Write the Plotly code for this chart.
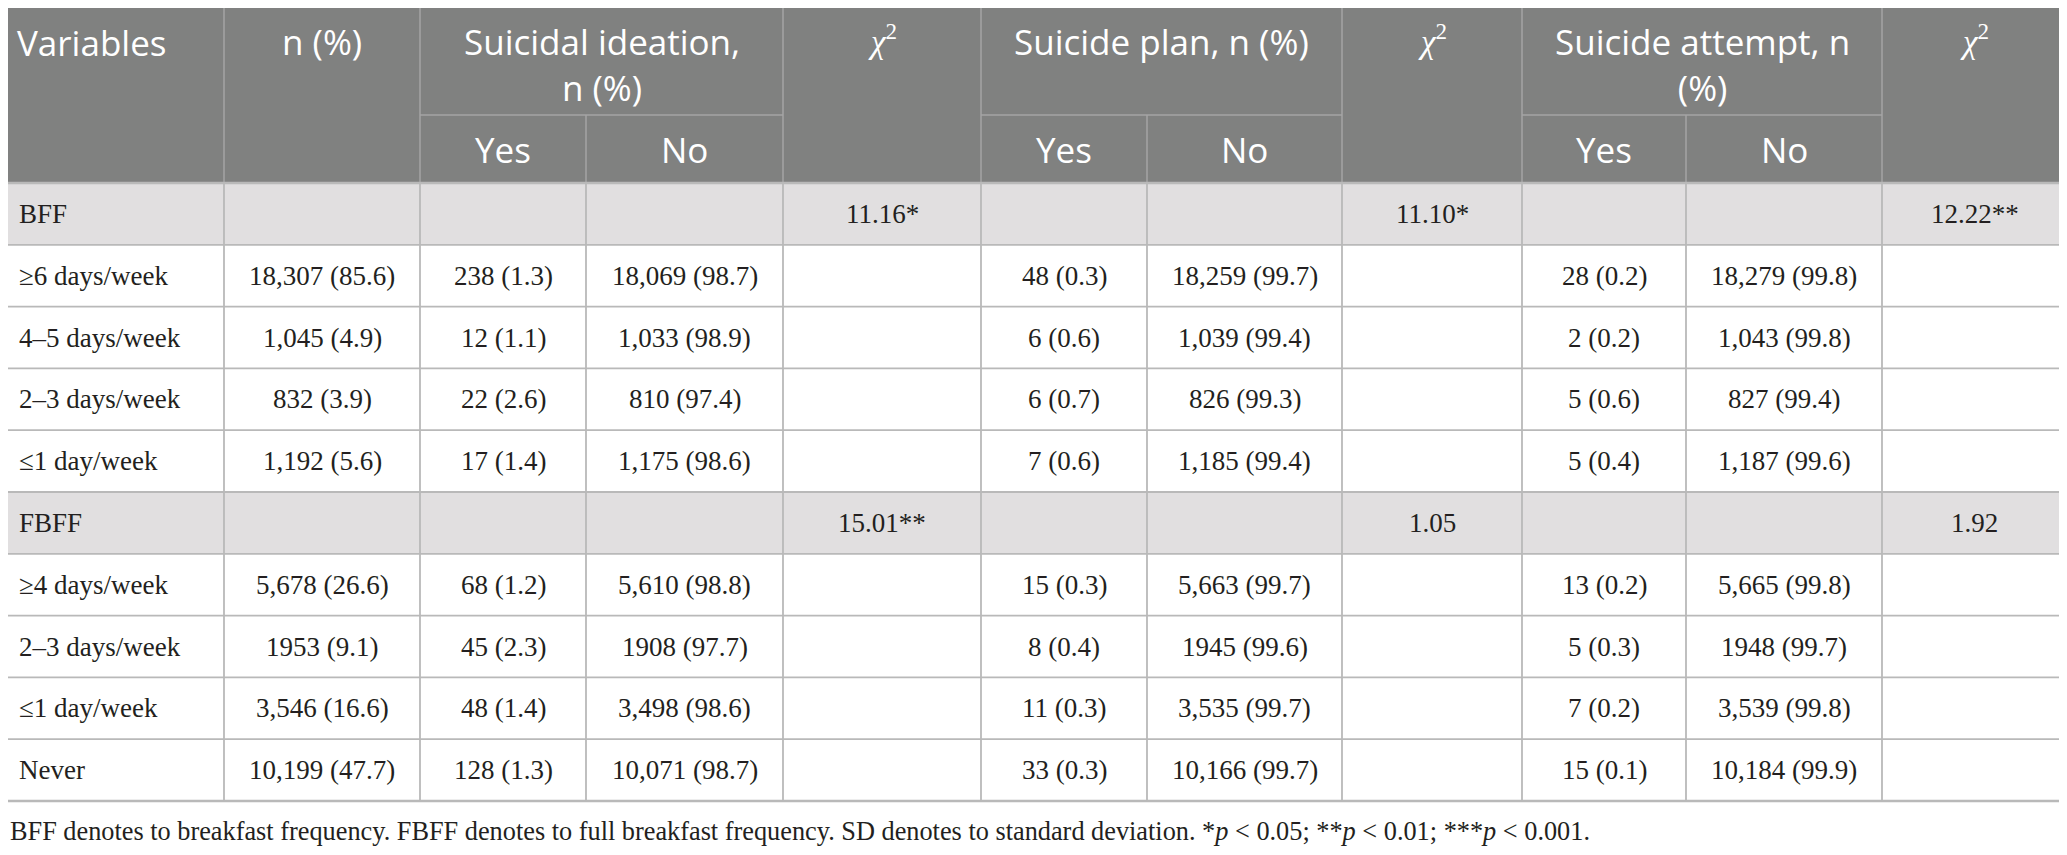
import plotly.graph_objects as go

# Table contents (one entry per body row)
variables = ["BFF", "≥6 days/week", "4–5 days/week", "2–3 days/week", "≤1 day/week",
             "FBFF", "≥4 days/week", "2–3 days/week", "≤1 day/week", "Never"]
section_rows = ["BFF", "FBFF"]
n_pct = ["", "18,307 (85.6)", "1,045 (4.9)", "832 (3.9)", "1,192 (5.6)",
         "", "5,678 (26.6)", "1953 (9.1)", "3,546 (16.6)", "10,199 (47.7)"]
ideation_yes = ["", "238 (1.3)", "12 (1.1)", "22 (2.6)", "17 (1.4)",
                "", "68 (1.2)", "45 (2.3)", "48 (1.4)", "128 (1.3)"]
ideation_no = ["", "18,069 (98.7)", "1,033 (98.9)", "810 (97.4)", "1,175 (98.6)",
               "", "5,610 (98.8)", "1908 (97.7)", "3,498 (98.6)", "10,071 (98.7)"]
chi_ideation = ["11.16*", "", "", "", "", "15.01**", "", "", "", ""]
plan_yes = ["", "48 (0.3)", "6 (0.6)", "6 (0.7)", "7 (0.6)",
            "", "15 (0.3)", "8 (0.4)", "11 (0.3)", "33 (0.3)"]
plan_no = ["", "18,259 (99.7)", "1,039 (99.4)", "826 (99.3)", "1,185 (99.4)",
           "", "5,663 (99.7)", "1945 (99.6)", "3,535 (99.7)", "10,166 (99.7)"]
chi_plan = ["11.10*", "", "", "", "", "1.05", "", "", "", ""]
attempt_yes = ["", "28 (0.2)", "2 (0.2)", "5 (0.6)", "5 (0.4)",
               "", "13 (0.2)", "5 (0.3)", "7 (0.2)", "15 (0.1)"]
attempt_no = ["", "18,279 (99.8)", "1,043 (99.8)", "827 (99.4)", "1,187 (99.6)",
              "", "5,665 (99.8)", "1948 (99.7)", "3,539 (99.8)", "10,184 (99.9)"]
chi_attempt = ["12.22**", "", "", "", "", "1.92", "", "", "", ""]

# Header labels
top_headers = ["Variables", "n (%)", "Suicidal ideation,<br>n (%)", "<i>χ</i><sup>2</sup>",
               "Suicide plan, n (%)", "<i>χ</i><sup>2</sup>", "Suicide attempt, n<br>(%)",
               "<i>χ</i><sup>2</sup>"]
sub_headers = ["Yes", "No"]
footnote = ("BFF denotes to breakfast frequency. FBFF denotes to full breakfast frequency. "
            "SD denotes to standard deviation. *<i>p</i> &lt; 0.05; **<i>p</i> &lt; 0.01; "
            "***<i>p</i> &lt; 0.001.")

columns = [variables, n_pct, ideation_yes, ideation_no, chi_ideation,
           plan_yes, plan_no, chi_plan, attempt_yes, attempt_no, chi_attempt]

# Layout geometry (page pixels; the html body adds an 8px offset)
W, H = 2067, 855
OFF = 8
col_edges = [0, 224, 420, 586, 783, 981, 1147, 1342, 1522, 1686, 1882, 2067]
head_top, head_mid, head_bot = 5, 115, 183
row_h = 61.8
row_edges = [head_bot + i * row_h for i in range(len(variables) + 1)]

# top header spans: (first col, last col)
top_spans = [(0, 0), (1, 1), (2, 3), (4, 4), (5, 6), (7, 7), (8, 9), (10, 10)]

HEAD_BG = "#808180"
SECTION_BG = "#e1dfe0"
GRID = "#b9b9b9"
HEAD_GRID = "#a5a5a5"
TEXT = "#231f20"
SANS = "Open Sans"
SERIF = "Liberation Serif"
HEAD_SIZE = 35
BODY_SIZE = 27

fig = go.Figure()
shapes = []
annotations = []

# header background
shapes.append(dict(type="rect", x0=0, x1=W, y0=head_top, y1=head_bot,
                   fillcolor=HEAD_BG, line_width=0, layer="below"))
shapes.append(dict(type="line", x0=0, x1=W, y0=head_top, y1=head_top,
                   line=dict(color=GRID, width=2)))

for (c0, c1), label in zip(top_spans, top_headers):
    x0, x1 = col_edges[c0], col_edges[c1 + 1]
    if c0 > 0:
        shapes.append(dict(type="line", x0=x0, x1=x0, y0=head_top, y1=head_bot,
                           line=dict(color=HEAD_GRID, width=1.5)))
    is_chi = "χ" in label
    if c0 == 0:
        annotations.append(dict(x=x0 + 15, y=head_top + 37, text=label, xanchor="left",
                                yanchor="middle", showarrow=False,
                                font=dict(family=SANS, size=HEAD_SIZE, color="white")))
    else:
        annotations.append(dict(x=(x0 + x1) / 2, y=head_top + 11, text=label,
                                xanchor="center", yanchor="top", showarrow=False,
                                align="center",
                                font=dict(family=SERIF if is_chi else SANS,
                                          size=33 if is_chi else HEAD_SIZE, color="white")))
    if c1 > c0:
        # two-column group: split line + Yes / No
        shapes.append(dict(type="line", x0=x0, x1=x1, y0=head_mid, y1=head_mid,
                           line=dict(color=HEAD_GRID, width=1.5)))
        xm = col_edges[c0 + 1]
        shapes.append(dict(type="line", x0=xm, x1=xm, y0=head_mid, y1=head_bot,
                           line=dict(color=HEAD_GRID, width=1.5)))
        for k, sub in enumerate(sub_headers):
            annotations.append(dict(x=(col_edges[c0 + k] + col_edges[c0 + k + 1]) / 2,
                                    y=(head_mid + head_bot) / 2, text=sub,
                                    xanchor="center", yanchor="middle", showarrow=False,
                                    font=dict(family=SANS, size=HEAD_SIZE, color="white")))

# body rows
for r, var in enumerate(variables):
    y0, y1 = row_edges[r], row_edges[r + 1]
    if var in section_rows:
        shapes.append(dict(type="rect", x0=0, x1=W, y0=y0, y1=y1,
                           fillcolor=SECTION_BG, line_width=0, layer="below"))
    for c, col in enumerate(columns):
        txt = col[r]
        if not txt:
            continue
        if c == 0:
            annotations.append(dict(x=col_edges[0] + 17, y=(y0 + y1) / 2, text=txt,
                                    xanchor="left", yanchor="middle", showarrow=False,
                                    font=dict(family=SERIF, size=BODY_SIZE, color=TEXT)))
        else:
            annotations.append(dict(x=(col_edges[c] + col_edges[c + 1]) / 2,
                                    y=(y0 + y1) / 2, text=txt, xanchor="center",
                                    yanchor="middle", showarrow=False,
                                    font=dict(family=SERIF, size=BODY_SIZE, color=TEXT)))

# grid lines in body
for i, y in enumerate(row_edges):
    shapes.append(dict(type="line", x0=0, x1=W, y0=y, y1=y,
                       line=dict(color=GRID, width=2.5 if i in (0, len(row_edges) - 1) else 1.8)))
for x in col_edges:
    shapes.append(dict(type="line", x0=x, x1=x, y0=head_bot, y1=row_edges[-1],
                       line=dict(color=GRID, width=1.8)))

annotations.append(dict(x=OFF, y=831, text=footnote, xanchor="left", yanchor="middle",
                        showarrow=False, font=dict(family=SERIF, size=26.3, color=TEXT)))

fig.update_layout(
    width=W - OFF, height=H - OFF,
    margin=dict(l=0, r=0, t=0, b=0),
    paper_bgcolor="white", plot_bgcolor="white",
    xaxis=dict(range=[OFF, W], visible=False, fixedrange=True),
    yaxis=dict(range=[H, OFF], visible=False, fixedrange=True),
    shapes=shapes, annotations=annotations,
    showlegend=False,
)

fig.write_html("out.html")
